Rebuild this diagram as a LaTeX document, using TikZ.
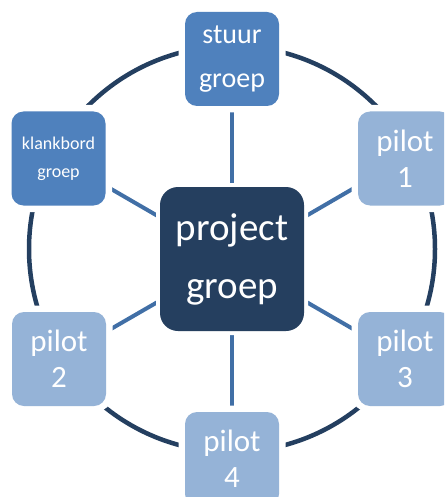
\documentclass[tikz,border=0pt]{standalone}
\usepackage{fontspec}
\setmainfont{Carlito}
\usepackage{xcolor}
\usepackage{tikz}
\usetikzlibrary{positioning,backgrounds}

\definecolor{hubblue}{HTML}{253F5F}
\definecolor{ringblue}{HTML}{243F60}
\definecolor{midblue}{HTML}{4F81BD}
\definecolor{lightblue}{HTML}{95B3D7}
\definecolor{spokeblue}{HTML}{416FA6}

\begin{document}
\begin{tikzpicture}[x=1pt, y=-1pt,
		box/.style = {rounded corners=12pt, minimum size=94pt, inner sep=0pt, text=white, align=center},
		halo/.style = {preaction={draw=white, line width=#1}},
		grp/.style = {box, fill=midblue, halo=13pt},
		pil/.style = {box, fill=lightblue, halo=13pt, font=\fontsize{31}{36}\selectfont},
		spoke/.style = {draw=spokeblue, line width=4pt},
		ring/.style = {draw=ringblue, line width=4.5pt}
		]
		\clip (0,0) rectangle (444,497);
		
		\node (pg) [box, fill=hubblue, rounded corners=18pt, minimum size=144pt, halo=8pt, font=\fontsize{39}{58}\selectfont] at (232,259) {project\\groep};
		
		\node (sg) [grp, font=\fontsize{28}{44}\selectfont] at (232,59)   {stuur\\groep};
		\node (kg) [grp, font=\fontsize{18}{28}\selectfont] at (58.5,158.5) {klankbord\\groep};
		
		\node (p1) [pil] at (405,158.5) {pilot\\1};
		\node (p2) [pil] at (59,359)    {pilot\\2};
		\node (p3) [pil] at (405,359)   {pilot\\3};
		\node (p4) [pil] at (232,459)   {pilot\\4};
		
		%ring and spokes go under the boxes
		\begin{pgfonlayer}{background}
		\coordinate (ringc) at (232,249);
		\draw[ring] (ringc) circle[radius=203pt];
		
		\draw[spoke] (pg.center) -- (sg.center);
		\draw[spoke] (pg.center) -- (kg.center);
		\draw[spoke] (pg.center) -- (p1.center);
		\draw[spoke] (pg.center) -- (p2.center);
		\draw[spoke] (pg.center) -- (p3.center);
		\draw[spoke] (pg.center) -- (p4.center);
		\end{pgfonlayer}
		
	\end{tikzpicture}
\end{document}
